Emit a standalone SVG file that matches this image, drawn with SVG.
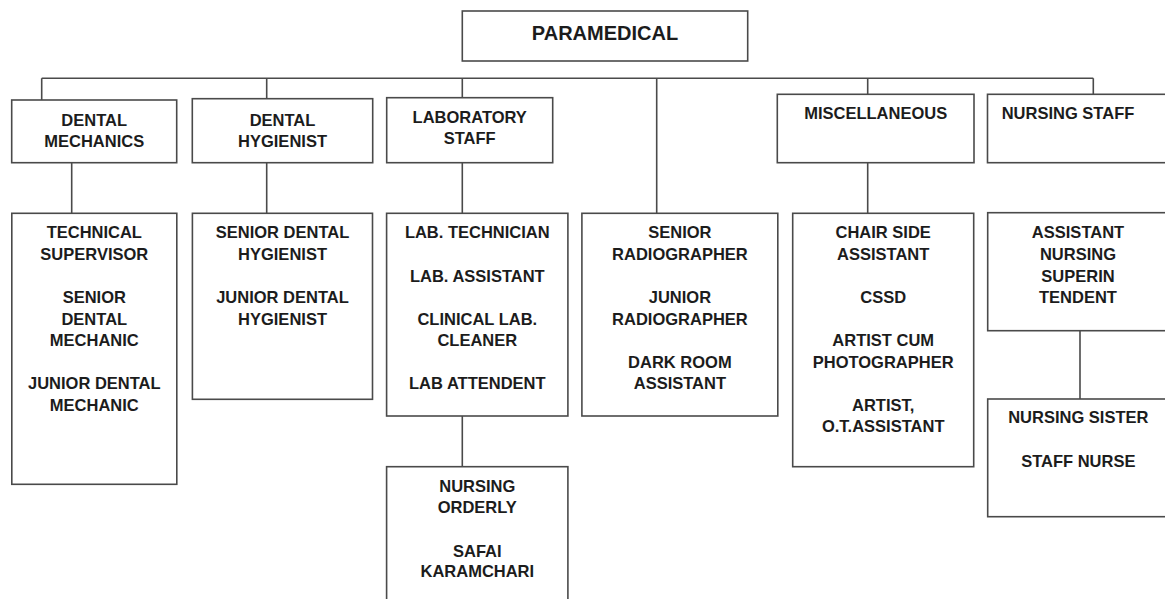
<svg xmlns="http://www.w3.org/2000/svg" width="1165" height="599" viewBox="0 0 1165 599">
<style>
.box{fill:#ffffff;stroke:#4a4a4a;stroke-width:1.6}
.ln{fill:none;stroke:#4a4a4a;stroke-width:1.6}
text{font-family:"Liberation Sans",Arial,sans-serif;font-weight:bold;font-size:16.5px;fill:#1c1c1c;text-anchor:middle}
.title{font-size:20px}
.left{text-anchor:start}
</style>
<rect width="1165" height="599" fill="#ffffff"/>
<g id="connectors">
<path class="ln" d="M41.7,78.3 H1093.3"/>
<path class="ln" d="M41.7,78.3 V100 M266.7,78.3 V98.7 M462.3,78.3 V97.7 M656.7,78.3 V213.3 M867.7,78.3 V94.3 M1093.3,78.3 V94.3"/>
<path class="ln" d="M71.7,162.7 V213.3 M266.7,162.7 V213.3 M462.3,162.7 V213.3 M867.7,162.7 V213.3"/>
<path class="ln" d="M462.3,416 V466.7 M1080,330.7 V399"/>
</g>
<g id="paramedical">
<rect class="box" x="462.3" y="11" width="285.4" height="50"/>
<text class="title" x="605" y="40">PARAMEDICAL</text>
</g>
<g id="dental-mechanics">
<rect class="box" x="11.7" y="100" width="165" height="62.7"/>
<text x="94.2" y="126">DENTAL</text>
<text x="94.2" y="146.7">MECHANICS</text>
</g>
<g id="dental-hygienist">
<rect class="box" x="192.3" y="98.7" width="180.4" height="64"/>
<text x="282.5" y="126">DENTAL</text>
<text x="282.5" y="146.7">HYGIENIST</text>
</g>
<g id="laboratory-staff">
<rect class="box" x="386.7" y="97.7" width="166" height="65"/>
<text x="469.7" y="123">LABORATORY</text>
<text x="469.7" y="144">STAFF</text>
</g>
<g id="miscellaneous">
<rect class="box" x="777.3" y="94.3" width="196.7" height="68.4"/>
<text x="875.7" y="119.3">MISCELLANEOUS</text>
</g>
<g id="nursing-staff">
<rect class="box" x="987.5" y="94.3" width="190" height="68.4"/>
<text class="left" x="1001.7" y="119.3">NURSING STAFF</text>
</g>
<g id="dental-mechanics-posts">
<rect class="box" x="11.8" y="213.3" width="165" height="271"/>
<text x="94.3" y="238.3">TECHNICAL</text>
<text x="94.3" y="260">SUPERVISOR</text>
<text x="94.3" y="303.3">SENIOR</text>
<text x="94.3" y="325">DENTAL</text>
<text x="94.3" y="346">MECHANIC</text>
<text x="94.3" y="389.3">JUNIOR DENTAL</text>
<text x="94.3" y="410.7">MECHANIC</text>
</g>
<g id="dental-hygienist-posts">
<rect class="box" x="192.4" y="213.3" width="180.1" height="186"/>
<text x="282.5" y="238.3">SENIOR DENTAL</text>
<text x="282.5" y="260">HYGIENIST</text>
<text x="282.5" y="303.3">JUNIOR DENTAL</text>
<text x="282.5" y="325">HYGIENIST</text>
</g>
<g id="laboratory-posts">
<rect class="box" x="386.6" y="213.3" width="181.3" height="202.7"/>
<text x="477.3" y="238.3">LAB. TECHNICIAN</text>
<text x="477.3" y="281.7">LAB. ASSISTANT</text>
<text x="477.3" y="325">CLINICAL LAB.</text>
<text x="477.3" y="346">CLEANER</text>
<text x="477.3" y="389.3">LAB ATTENDENT</text>
</g>
<g id="laboratory-subposts">
<rect class="box" x="386.6" y="466.7" width="181.3" height="140"/>
<text x="477.3" y="491.7">NURSING</text>
<text x="477.3" y="512.7">ORDERLY</text>
<text x="477.3" y="556.7">SAFAI</text>
<text x="477.3" y="576.7">KARAMCHARI</text>
</g>
<g id="radiographer-posts">
<rect class="box" x="581.9" y="213.3" width="195.9" height="202.7"/>
<text x="679.9" y="238.3">SENIOR</text>
<text x="679.9" y="260">RADIOGRAPHER</text>
<text x="679.9" y="303.3">JUNIOR</text>
<text x="679.9" y="325">RADIOGRAPHER</text>
<text x="679.9" y="367.7">DARK ROOM</text>
<text x="679.9" y="389.3">ASSISTANT</text>
</g>
<g id="miscellaneous-posts">
<rect class="box" x="792.7" y="213.3" width="181" height="253.4"/>
<text x="883.2" y="238.3">CHAIR SIDE</text>
<text x="883.2" y="260">ASSISTANT</text>
<text x="883.2" y="303.3">CSSD</text>
<text x="883.2" y="346">ARTIST CUM</text>
<text x="883.2" y="367.7">PHOTOGRAPHER</text>
<text x="883.2" y="410.7">ARTIST,</text>
<text x="883.2" y="432.3">O.T.ASSISTANT</text>
</g>
<g id="assistant-nursing-superintendent">
<rect class="box" x="987.7" y="212.7" width="190" height="118"/>
<text x="1078" y="237.7">ASSISTANT</text>
<text x="1078" y="260">NURSING</text>
<text x="1078" y="281.7">SUPERIN</text>
<text x="1078" y="302.7">TENDENT</text>
</g>
<g id="nursing-sister">
<rect class="box" x="987.7" y="399" width="190" height="117.7"/>
<text x="1078.3" y="423.3">NURSING SISTER</text>
<text x="1078.3" y="466.7">STAFF NURSE</text>
</g>
</svg>
